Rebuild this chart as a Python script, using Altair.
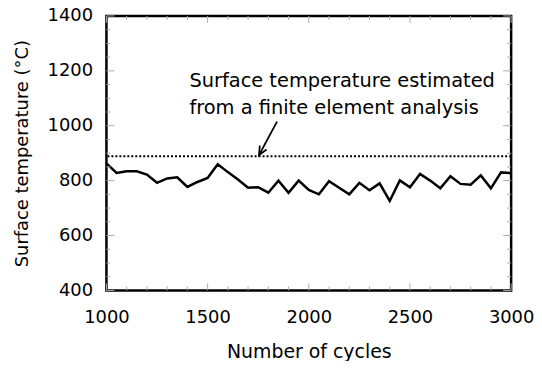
import altair as alt
import pandas as pd

# ---- data ----
cycles = [1000, 1050, 1100, 1150, 1200, 1250, 1300, 1350, 1400, 1450, 1500,
          1550, 1600, 1650, 1700, 1750, 1800, 1850, 1900, 1950, 2000,
          2050, 2100, 2150, 2200, 2250, 2300, 2350, 2400, 2450, 2500,
          2550, 2600, 2650, 2700, 2750, 2800, 2850, 2900, 2950, 3000]
temps = [863, 828, 834, 834, 822, 792, 808, 812, 777, 795, 810,
         860, 831, 804, 774, 776, 756, 800, 756, 800, 766,
         750, 798, 774, 750, 792, 765, 790, 726, 801, 776,
         824, 800, 772, 816, 788, 785, 819, 772, 830, 827]
fe_estimate = 889
x_ticks = [1000, 1500, 2000, 2500, 3000]
y_ticks = [400, 600, 800, 1000, 1200, 1400]
x_minor = list(range(1000, 3001, 100))
y_minor = list(range(400, 1401, 50))
note_lines = ["Surface temperature estimated", "from a finite element analysis"]
note_x = [1410, 1410]
note_y = [1140, 1041]
arrow_x = [1843, 1754]
arrow_y = [1015, 893]

W, H = 407, 276
FONT = "DejaVu Sans"

xs = alt.Scale(domain=[1000, 3000], nice=False, zero=False)
ys = alt.Scale(domain=[400, 1400], nice=False, zero=False)

XA = alt.Axis(
    values=x_ticks, ticks=False, domain=False, grid=False, format="d",
    labelFlush=False, labelOverlap=False,
    labelFont=FONT, labelFontSize=18, labelColor="black", labelPadding=18,
    title="Number of cycles", titleFont=FONT, titleFontSize=19,
    titleFontWeight="normal", titleColor="black", titlePadding=16)
YA = alt.Axis(
    values=y_ticks, ticks=False, domain=False, grid=False, format="d",
    labelFlush=False, labelOverlap=False,
    labelFont=FONT, labelFontSize=18, labelColor="black", labelPadding=14,
    title="Surface temperature (°C)", titleFont=FONT, titleFontSize=18,
    titleFontWeight="normal", titleColor="black", titlePadding=16)


def X(f):
    return alt.X(f, scale=xs, axis=XA, title="Number of cycles")


def Y(f):
    return alt.Y(f, scale=ys, axis=YA, title="Surface temperature (°C)")


df = pd.DataFrame({"c": cycles, "t": temps})

line = alt.Chart(df).mark_line(color="black", strokeWidth=2.5).encode(
    x=X("c:Q"), y=Y("t:Q"))

dash = alt.Chart(pd.DataFrame({"t": [fe_estimate]})).mark_rule(
    color="black", strokeWidth=2, strokeDash=[2, 2]).encode(y=Y("t:Q"))

# inner tick marks
xmin_df = pd.DataFrame({"c": x_minor,
                        "major": [c % 500 == 0 for c in x_minor]})
ymin_df = pd.DataFrame({"t": y_minor,
                        "major": [v % 200 == 0 for v in y_minor]})
TC = "#aaaaaa"


def xticks(major, y0, y1):
    return alt.Chart(xmin_df).transform_filter(
        alt.datum.major == major).mark_rule(color=TC, strokeWidth=1).encode(
        x=X("c:Q"), y=alt.value(y0), y2=alt.value(y1))


def yticks(major, x0, x1):
    return alt.Chart(ymin_df).transform_filter(
        alt.datum.major == major).mark_rule(color=TC, strokeWidth=1).encode(
        y=Y("t:Q"), x=alt.value(x0), x2=alt.value(x1))


tick_layers = [
    xticks(True, H, H - 7), xticks(False, H, H - 4),
    xticks(True, 0, 7), xticks(False, 0, 4),
    yticks(True, 0, 8), yticks(False, 0, 4),
    yticks(True, W, W - 8), yticks(False, W, W - 4),
]

notes = alt.Chart(pd.DataFrame({"c": note_x, "t": note_y, "s": note_lines})).mark_text(
    align="left", baseline="alphabetic", font=FONT, fontSize=19.5, color="black").encode(
    x=X("c:Q"), y=Y("t:Q"), text="s:N")

arrow_df = pd.DataFrame({"c": arrow_x, "t": arrow_y, "o": [0, 1]})
arrow_line = alt.Chart(arrow_df).mark_line(color="black", strokeWidth=1.8).encode(
    x=X("c:Q"), y=Y("t:Q"), order="o:Q")
arrow_head = alt.Chart(arrow_df.iloc[[1]]).mark_point(
    shape="M -0.45 -1 L 0 0 L 0.45 -1", filled=False, stroke="black",
    strokeWidth=1.8, size=300, angle=29, opacity=1).encode(
    x=X("c:Q"), y=Y("t:Q"))

chart = alt.layer(line, *tick_layers, dash, notes, arrow_line, arrow_head).properties(
    width=W, height=H,
    background="white",
    autosize=alt.AutoSizeParams(type="none"),
    padding={"left": 99, "top": 7, "right": 23, "bottom": 70},
).configure_view(stroke="black", strokeWidth=2.5)

chart.save("out.html", embed_options={"renderer": "svg", "actions": False})
